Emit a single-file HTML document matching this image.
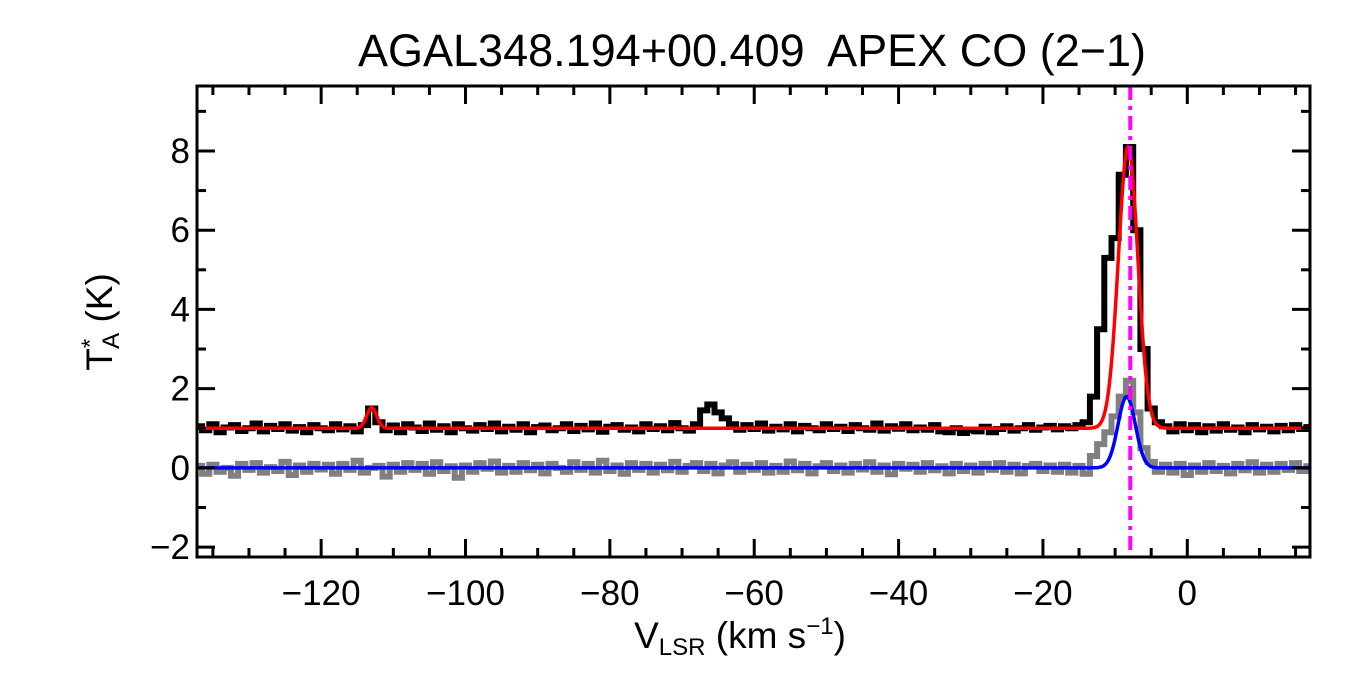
<!DOCTYPE html>
<html><head><meta charset="utf-8"><style>
body{margin:0;background:#fff}
svg{display:block;font-family:"Liberation Sans",Arial,sans-serif}
</style></head><body>
<svg id="c" width="1350" height="675" viewBox="0 0 1350 675">
<text x="752" y="66" font-size="45" text-anchor="middle" xml:space="preserve">AGAL348.194+00.409  APEX CO (2−1)</text>
<g id="plot"></g>
<rect x="197" y="86" width="1113" height="471" fill="none" stroke="#000" stroke-width="3"/>
<text x="740" y="648" font-size="37" text-anchor="middle">V<tspan font-size="24" dy="7">LSR</tspan><tspan dy="-7"> (km s</tspan><tspan font-size="24" dy="-14">−1</tspan><tspan dy="14">)</tspan></text>
<text transform="translate(112,322) rotate(-90)" font-size="37" text-anchor="middle">T<tspan font-size="24" dy="-14">*</tspan><tspan font-size="24" dx="-10" dy="21">A</tspan><tspan dy="-7"> (K)</tspan></text>
</svg>
<script>
const vStart=-137, vStep=1;
const spectrum=[1.05,0.95,1.1,0.9,1.02,1.08,0.93,1.0,1.12,0.92,
1.06,0.98,1.1,0.94,1.03,0.9,1.08,1.0,0.95,1.1,
0.97,1.05,0.92,1.08,1.5,1.15,0.95,1.07,0.9,1.1,
1.02,0.93,1.12,0.96,1.05,0.9,1.1,1.0,0.94,1.08,
0.98,1.12,0.92,1.04,0.96,1.1,0.9,1.03,1.07,0.95,
1.0,1.1,0.93,1.06,0.97,1.12,0.91,1.04,1.08,0.96,
1.02,0.92,1.1,0.98,1.05,0.95,1.13,1.0,0.94,1.1,
1.45,1.6,1.4,1.25,1.1,0.96,1.08,0.98,1.12,0.94,
1.04,0.97,1.1,0.92,1.06,1.0,0.95,1.1,0.98,1.04,
0.93,1.08,1.0,0.96,1.12,0.94,1.05,0.99,1.1,0.95,
1.02,0.96,1.08,0.92,0.9,1.0,0.88,0.95,0.92,1.04,
0.9,0.98,1.05,0.94,1.0,1.08,0.96,1.02,1.06,0.97,
1.05,1.0,1.08,1.15,1.8,3.5,5.3,5.8,7.4,8.1,
6.0,3.0,1.5,1.15,1.05,0.92,1.1,0.95,1.08,0.9,
1.05,0.94,1.1,0.96,1.02,0.9,1.08,0.97,1.04,0.92,
1.06,0.95,1.08,0.98,1.03];
const residual=[0.05,-0.15,0.08,-0.1,0.0,-0.2,0.1,-0.05,0.12,-0.12,
0.02,-0.08,0.15,-0.18,0.06,-0.1,0.1,-0.04,0.08,-0.15,
0.1,-0.05,0.18,-0.12,0.0,0.05,-0.22,0.08,-0.1,0.12,
-0.05,0.1,-0.15,0.14,-0.08,0.04,-0.25,0.06,-0.1,0.12,
-0.02,0.16,-0.12,0.05,-0.1,0.12,-0.06,0.08,-0.14,0.1,
0.0,-0.1,0.14,-0.05,0.1,-0.12,0.18,-0.08,0.06,-0.15,
0.12,-0.05,0.1,-0.12,0.08,-0.06,0.15,-0.1,0.05,0.12,
-0.08,0.1,-0.14,0.06,0.14,-0.1,0.08,-0.05,0.12,-0.12,
0.05,-0.1,0.16,-0.06,0.1,-0.14,0.04,0.12,-0.08,0.06,
-0.12,0.1,-0.04,0.14,-0.1,0.06,-0.16,0.1,-0.02,0.08,
-0.1,0.12,-0.06,0.04,-0.14,0.1,-0.08,0.06,-0.12,0.1,
-0.05,0.12,-0.1,0.08,-0.14,0.05,0.1,-0.08,0.06,-0.1,
0.08,-0.12,0.05,-0.15,0.3,0.6,0.9,1.3,1.8,2.2,
1.4,0.5,0.15,-0.1,0.08,-0.12,0.1,-0.18,0.06,-0.1,
0.12,-0.08,0.05,-0.14,0.1,-0.06,0.14,-0.12,0.08,-0.1,
0.1,-0.05,0.12,-0.08,0.04];
const redOffset=1.0;
const redCenters=[-113,-8.2];
const redAmps=[0.52,7.1];
const redSigmas=[0.7,1.35];
const blueCenters=[-8.4];
const blueAmps=[1.8];
const blueSigmas=[1.2];
const markerV=-7.9;
const xTicks=[-120,-100,-80,-60,-40,-20,0];
const yTicks=[-2,0,2,4,6,8];

const X0=197,X1=1310,Y0=86,Y1=557,vMin=-137.2,vMax=17.0,tMin=-2.25,tMax=9.64;
const xs=v=>X0+(v-vMin)/(vMax-vMin)*(X1-X0);
const ys=t=>Y1-(t-tMin)/(tMax-tMin)*(Y1-Y0);
const NS='http://www.w3.org/2000/svg';
const plot=document.getElementById('plot');
function mk(tag,attrs){const e=document.createElementNS(NS,tag);for(const k in attrs)e.setAttribute(k,attrs[k]);plot.appendChild(e);return e;}
function stepPath(arr){let d='';arr.forEach((t,i)=>{const v=vStart+i*vStep;const xa=Math.max(X0,xs(v-vStep/2)),xb=Math.min(X1,xs(v+vStep/2));d+=(i?'L':'M')+xa.toFixed(1)+','+ys(t).toFixed(1)+'L'+xb.toFixed(1)+','+ys(t).toFixed(1);});return d;}
function gaussPath(off,c,a,s){let d='';for(let px=X0;px<=X1;px+=1){const v=vMin+(px-X0)/(X1-X0)*(vMax-vMin);let t=off;for(let k=0;k<c.length;k++)t+=a[k]*Math.exp(-0.5*((v-c[k])/s[k])**2);d+=(px===X0?'M':'L')+px+','+ys(t).toFixed(1);}return d;}
let e;
e=mk('path',{d:stepPath(residual),fill:'none',stroke:'#808080','stroke-width':6});


e=mk('path',{d:stepPath(spectrum),fill:'none',stroke:'#000','stroke-width':6});


e=mk('path',{d:gaussPath(redOffset,redCenters,redAmps,redSigmas),fill:'none',stroke:'#ff0000','stroke-width':3.5});


e=mk('path',{d:gaussPath(0,blueCenters,blueAmps,blueSigmas),fill:'none',stroke:'#0000ff','stroke-width':3.5});


e=mk('line',{x1:xs(markerV),x2:xs(markerV),y1:Y0,y2:Y1,stroke:'#ff00ff','stroke-width':4,'stroke-dasharray':'14,6,4,6'});


for(let v=-135;v<=15;v+=5){const major=v%20===0;const L=major?18:9;
 e=mk('line',{x1:xs(v),x2:xs(v),y1:Y1,y2:Y1-L,stroke:'#000','stroke-width':3});
 
 
 e=mk('line',{x1:xs(v),x2:xs(v),y1:Y0,y2:Y0+L,stroke:'#000','stroke-width':3});
 
 }
for(let t=-2;t<=9;t+=1){const major=t%2===0;const L=major?18:9;
 e=mk('line',{x1:X0,x2:X0+L,y1:ys(t),y2:ys(t),stroke:'#000','stroke-width':3});
 
 
 e=mk('line',{x1:X1,x2:X1-L,y1:ys(t),y2:ys(t),stroke:'#000','stroke-width':3});
 
 }
xTicks.forEach(v=>{e=mk('text',{x:xs(v),y:605,'font-size':35,'text-anchor':'middle'});e.textContent=String(v).replace('-','−');
 
 });
yTicks.forEach(t=>{e=mk('text',{x:190,y:ys(t)+12,'font-size':35,'text-anchor':'end'});e.textContent=String(t).replace('-','−');
 
 });
</script>
</body></html>
